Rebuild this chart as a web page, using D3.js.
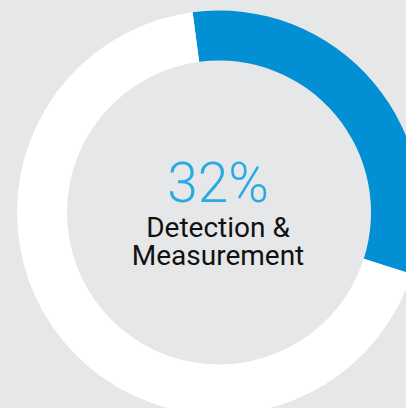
<!DOCTYPE html>
<html>
<head>
<meta charset="utf-8">
<script src="https://cdn.jsdelivr.net/npm/d3@7"></script>
<style>
  html, body { margin: 0; padding: 0; background: #e6e7e9; }
  svg { display: block; }
</style>
</head>
<body>
<svg id="chart" width="406" height="408"></svg>
<script>
// share shown in the donut, the rest is the white remainder
const segments = ['Detection & Measurement', 'Other'];
const values = [32, 68];
const segmentColors = ['#028fd4', '#ffffff'];
const centerValue = '32%';
const centerLines = ['Detection &', 'Measurement'];

const width = 406, height = 408;
const cx = 219, cy = 212.5;
const outerR = 202, innerR = 152;

const svg = d3.select('#chart');

svg.append('rect')
    .attr('width', width)
    .attr('height', height)
    .attr('fill', '#e6e7e9');

const g = svg.append('g').attr('transform', `translate(${cx},${cy})`);

const color = d3.scaleOrdinal().domain(segments).range(segmentColors);

const start = -7.5 * Math.PI / 180;
const pie = d3.pie()
    .sort(null)
    .value(d => d.value)
    .startAngle(start)
    .endAngle(start + 2 * Math.PI);

const arc = d3.arc().innerRadius(innerR).outerRadius(outerR);

const data = segments.map((s, i) => ({ name: s, value: values[i] }));

g.selectAll('path.slice')
    .data(pie(data))
    .join('path')
    .attr('class', 'slice')
    .attr('d', arc)
    .attr('fill', d => color(d.data.name));

g.append('text')
    .attr('x', -1)
    .attr('y', -11)
    .attr('text-anchor', 'middle')
    .attr('font-family', 'Roboto, sans-serif')
    .attr('font-weight', 300)
    .attr('font-size', 55)
    .attr('fill', '#29abe2')
    .text(centerValue);

// two-line label as one text block
const label = g.append('text')
    .attr('text-anchor', 'middle')
    .attr('font-family', 'Roboto, sans-serif')
    .attr('font-size', 28)
    .attr('fill', '#111');

label.selectAll('tspan')
    .data(centerLines)
    .join('tspan')
    .attr('x', -1)
    .attr('y', (d, i) => 24.5 + i * 28)
    .text(d => d);
</script>
</body>
</html>
